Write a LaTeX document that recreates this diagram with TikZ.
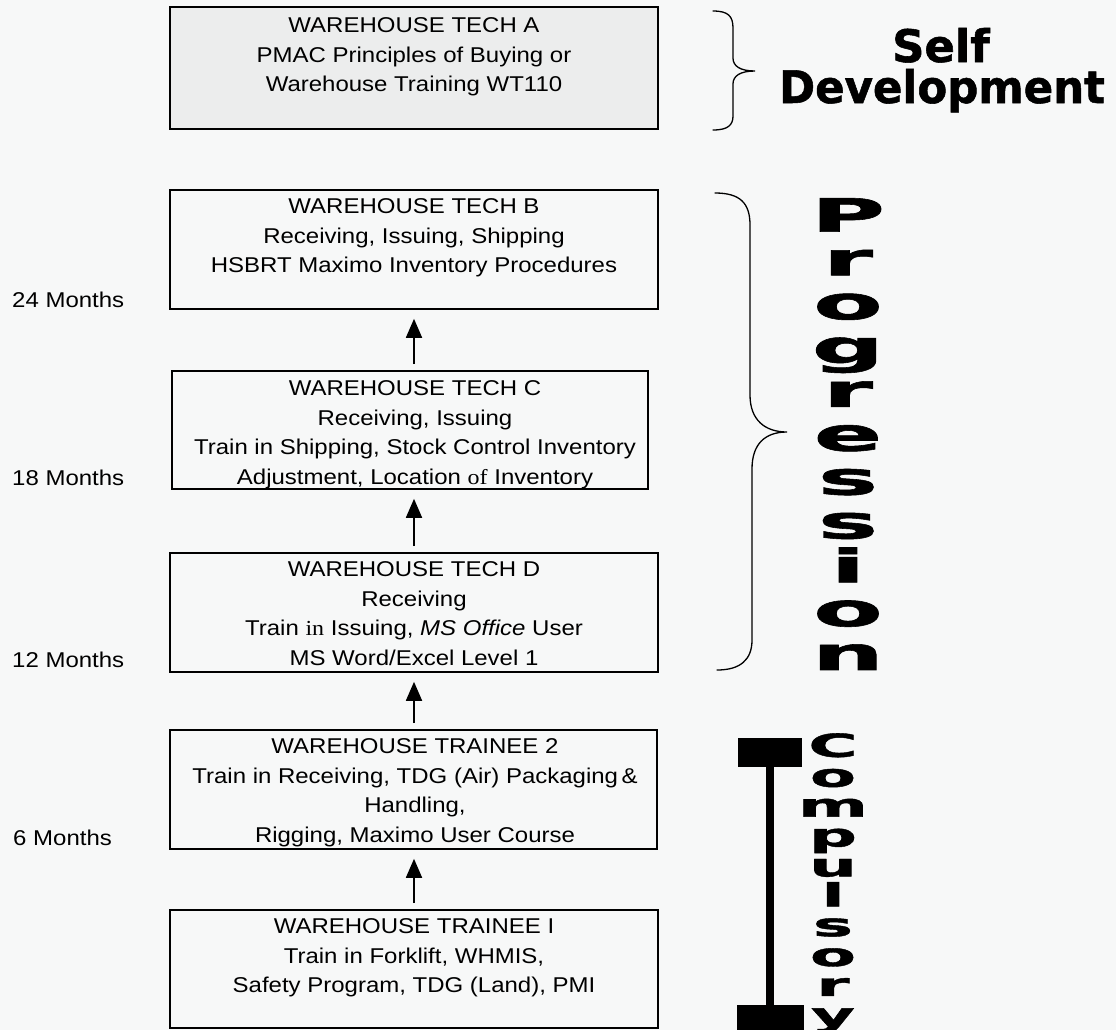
\documentclass[tikz,border=0pt]{standalone}
\usepackage{fontspec}
\setmainfont{Liberation Sans}[FakeStretch=1.12]
\newfontfamily\serifword{Liberation Serif}[FakeStretch=1.12]
\newfontfamily\heavyfont{DejaVu Sans Bold}[FakeBold=1.2]
\usetikzlibrary{arrows.meta}
\definecolor{paper}{RGB}{247,248,248}
\definecolor{stipple}{RGB}{236,237,237}
% one widened letter
\newcommand\widelet[2]{\scalebox{#1}[1]{#2}}
\begin{document}
\begin{tikzpicture}[x=1bp,y=-1bp,
  box/.style={draw=black, line width=1.6bp, inner sep=0},
  boxtext/.style={anchor=north, align=center, inner sep=0,
    font=\fontsize{21.5}{30}\selectfont},
  months/.style={anchor=base west, inner sep=0,
    font=\fontsize{21.5}{30}\selectfont},
  uparrow/.style={line width=1.8bp, -{Triangle[length=19bp,width=16bp]},
    shorten <=6bp, shorten >=9bp},
  bracket/.style={line width=1.3bp, line cap=round},
  progword/.style={anchor=north, align=center, inner sep=0,
    font=\heavyfont\fontsize{46}{44}\selectfont},
  compword/.style={anchor=north, align=center, inner sep=0,
    font=\heavyfont\fontsize{32}{30}\selectfont},
  heading/.style={anchor=base, inner sep=0,
    font=\heavyfont\fontsize{45}{45}\selectfont}
]
% page
\fill[paper] (0,0) rectangle (1116,1030);
\useasboundingbox (0,0) rectangle (1116,1030);

% career ladder boxes
\node[box, fill=stipple, minimum width=488bp, minimum height=122bp] (A) at (414,68) {};
\node[box, minimum width=488bp, minimum height=119bp] (B) at (414,249.5) {};
\node[box, minimum width=476bp, minimum height=118bp] (C) at (410,430) {};
\node[box, minimum width=488bp, minimum height=119bp] (D) at (414,612.5) {};
\node[box, minimum width=487bp, minimum height=119bp] (T2) at (413.5,789.5) {};
\node[box, minimum width=488bp, minimum height=118bp] (T1) at (414,969) {};

% box contents
\node[boxtext] (Atext) at (414,17) {WAREHOUSE TECH A\\PMAC Principles of Buying or\\Warehouse Training WT110};
\node[boxtext] (Btext) at (414,198) {WAREHOUSE TECH B\\Receiving, Issuing, Shipping\\HSBRT Maximo Inventory Procedures};
\node[boxtext] (Ctext) at (415,380) {WAREHOUSE TECH C\\Receiving, Issuing\\Train in Shipping, Stock Control Inventory\\Adjustment, Location {\serifword of} Inventory};
\node[boxtext] (Dtext) at (414,561) {WAREHOUSE TECH D\\Receiving\\Train {\serifword in} Issuing, \textit{MS Office} User\\MS Word/Excel Level 1};
\node[boxtext] (T2text) at (415,738) {WAREHOUSE TRAINEE 2\\Train in Receiving, TDG (Air) Packaging\,\&\\Handling,\\Rigging, Maximo User Course};
\node[boxtext] (T1text) at (414,918) {WAREHOUSE TRAINEE I\\Train in Forklift, WHMIS,\\Safety Program, TDG (Land), PMI};

% progression arrows
\draw[uparrow] (B.south |- C.north) -- (B.south);
\draw[uparrow] (B.south |- D.north) -- (B.south |- C.south);
\draw[uparrow] (B.south |- T2.north) -- (D.south);
\draw[uparrow] (B.south |- T1.north) -- (B.south |- T2.south);

% time in position
\node[months] (m24) at (12,307) {24 Months};
\node[months] (m18) at (12,485) {18 Months};
\node[months] (m12) at (12,667) {12 Months};
\node[months] (m6) at (13,845) {6 Months};

% brace: self development
\draw[bracket] (713,11) .. controls (728,11) and (733,16) .. (733,28) -- (733,58)
  .. controls (733,66) and (740,71) .. (755,71)
  .. controls (740,71) and (733,76) .. (733,84) -- (733,116)
  .. controls (733,125) and (728,130) .. (713,130);
\node[heading] (self) at (941,62) {Self};
\node[heading] (devel) at (942,103) {\scalebox{0.97}[1]{Development}};

% brace: progression
\draw[bracket] (715,193) .. controls (740,193) and (750,203) .. (750,225) -- (750,395)
  .. controls (750,420) and (765,432) .. (787,432)
  .. controls (765,432) and (752,444) .. (752,469) -- (752,640)
  .. controls (752,660) and (740,670) .. (717,670);
\node[progword] (prog) at (848,198) {\widelet{2.2}{P}\\\widelet{2.2}{r}\\\widelet{2.2}{o}\\\widelet{2.2}{g}\\\widelet{2.2}{r}\\\widelet{2.2}{e}\\\widelet{2.2}{s}\\\widelet{2.2}{s}\\\widelet{2.2}{i}\\\widelet{2.2}{o}\\\widelet{2.2}{n}};

% compulsory bar
\fill (738,738) rectangle (802,767);
\fill (766,767) rectangle (774,1005);
\fill (737,1005) rectangle (804,1040);
\node[compword] (comp) at (833,733) {\widelet{2.1}{C}\\\widelet{2.1}{o}\\\widelet{2.1}{m}\\\widelet{2.1}{p}\\\widelet{2.1}{u}\\\widelet{2.1}{l}\\\widelet{2.1}{s}\\\widelet{2.1}{o}\\\widelet{2.1}{r}\\\widelet{2.1}{y}};
\end{tikzpicture}
\end{document}
